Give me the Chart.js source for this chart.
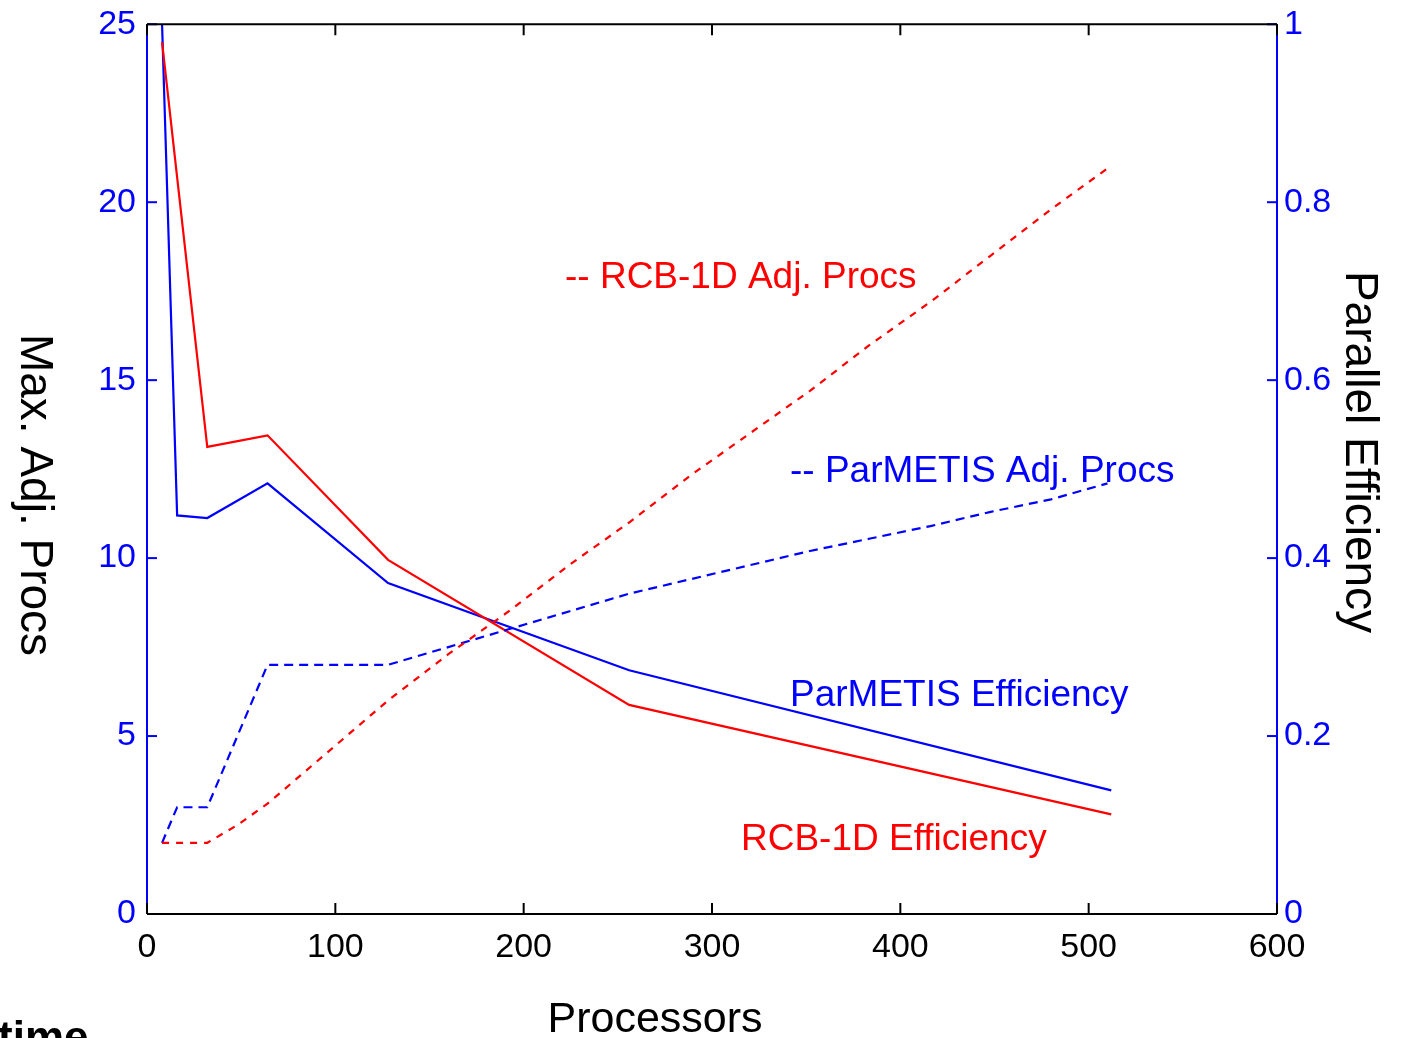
<!DOCTYPE html>
<html>
<head>
<meta charset="utf-8">
<title>Max. Adj. Procs and Parallel Efficiency vs Processors</title>
<script src="https://cdn.jsdelivr.net/npm/chart.js@4.4.1/dist/chart.umd.min.js"></script>
<style>
  html, body { margin: 0; padding: 0; background: #fff; overflow: hidden; }
  canvas { display: block; }
</style>
</head>
<body>
<canvas id="chart" width="1401" height="1038"></canvas>
<script>
// Data
// Efficiency runs (right axis)
const effProcs = [8, 16, 32, 64, 128, 256, 512];
const parmetisEff = [1.0, 0.448, 0.445, 0.484, 0.372, 0.274, 0.139];
const rcbEff = [0.98, 0.828, 0.525, 0.538, 0.398, 0.235, 0.112];

// Max adjacent processors (left axis)
const adjProcs = [8, 16, 32, 48, 64, 96, 128, 160, 192, 224, 256, 288, 320, 352, 384, 416, 448, 480, 510];
const parmetisAdj = [2, 3, 3, 5, 7, 7, 7, 7.5, 8.0, 8.5, 9.0, 9.4, 9.8, 10.2, 10.55, 10.9, 11.3, 11.65, 12.1];
const rcbAdj = [2, 2, 2, 2.5, 3.1, 4.55, 6.0, 7.3, 8.5, 9.8, 11.0, 12.3, 13.5, 14.7, 16.0, 17.2, 18.5, 19.8, 20.95];

// Axis ranges
const xRange = [0, 600, 100];
const leftRange = [0, 25, 5];
const rightRange = [0, 1, 0.2];

const RED = "#ff0000";
const BLUE = "#0000ff";
const SANS = '"Liberation Sans", Arial, sans-serif';

function toPoints(xs, ys) {
  return xs.map((x, i) => ({ x: x, y: ys[i] }));
}

// Frame, inward tick marks
const framePlugin = {
  id: "frame",
  afterDatasetsDraw(chart) {
    const { ctx, chartArea: a, scales } = chart;
    const line = (x1, y1, x2, y2) => {
      ctx.beginPath();
      ctx.moveTo(x1, y1);
      ctx.lineTo(x2, y2);
      ctx.stroke();
    };
    ctx.save();
    ctx.lineWidth = 2;

    // blue y axes
    ctx.strokeStyle = BLUE;
    line(a.left, a.top, a.left, a.bottom);
    line(a.right, a.top, a.right, a.bottom);
    scales.y.ticks.forEach((t) => {
      const py = scales.y.getPixelForValue(t.value);
      line(a.left, py, a.left + 10, py);
    });
    scales.y1.ticks.forEach((t) => {
      const py = scales.y1.getPixelForValue(t.value);
      line(a.right, py, a.right - 10, py);
    });

    // black x axes
    ctx.strokeStyle = "#000";
    line(a.left, a.top, a.right, a.top);
    line(a.left, a.bottom, a.right, a.bottom);
    scales.x.ticks.forEach((t) => {
      const px = scales.x.getPixelForValue(t.value);
      line(px, a.bottom, px, a.bottom - 11);
      line(px, a.top, px, a.top + 11);
    });
    ctx.restore();
  },
};

// Labels on the plot and the axis titles
const textPlugin = {
  id: "labels",
  afterDraw(chart) {
    const ctx = chart.ctx;
    ctx.save();
    ctx.textBaseline = "alphabetic";

    ctx.font = "37px " + SANS;
    ctx.textAlign = "left";
    ctx.fillStyle = RED;
    ctx.fillText("-- RCB-1D Adj. Procs", 565, 288);
    ctx.fillText("RCB-1D Efficiency", 741, 850);
    ctx.fillStyle = BLUE;
    ctx.fillText("-- ParMETIS Adj. Procs", 790, 482);
    ctx.fillText("ParMETIS Efficiency", 790, 706);

    ctx.fillStyle = "#000";
    ctx.font = "43px " + SANS;
    ctx.textAlign = "center";
    ctx.fillText("Processors", 655, 1032);

    ctx.font = "46px " + SANS;
    ctx.save();
    ctx.translate(21, 495);
    ctx.rotate(Math.PI / 2);
    ctx.fillText("Max. Adj. Procs", 0, 0);
    ctx.restore();

    ctx.save();
    ctx.translate(1346, 452);
    ctx.rotate(Math.PI / 2);
    ctx.fillText("Parallel Efficiency", 0, 0);
    ctx.restore();

    ctx.font = "bold 44px " + SANS;
    ctx.textAlign = "left";
    ctx.fillText("time", -2, 1052);
    ctx.restore();
  },
};

const xTickFont = { family: SANS, size: 34 };
// small line height keeps the top label overhang from pushing the plot down
const yTickFont = { family: SANS, size: 34, lineHeight: 0.78 };

new Chart(document.getElementById("chart"), {
  type: "line",
  data: {
    datasets: [
      {
        label: "RCB-1D Adj. Procs",
        data: toPoints(adjProcs, rcbAdj),
        yAxisID: "y",
        borderColor: RED,
        borderWidth: 2.2,
        borderDash: [7, 7],
        pointRadius: 0,
      },
      {
        label: "ParMETIS Adj. Procs",
        data: toPoints(adjProcs, parmetisAdj),
        yAxisID: "y",
        borderColor: BLUE,
        borderWidth: 2.2,
        borderDash: [9, 6],
        pointRadius: 0,
      },
      {
        label: "RCB-1D Efficiency",
        data: toPoints(effProcs, rcbEff),
        yAxisID: "y1",
        borderColor: RED,
        borderWidth: 2.2,
        pointRadius: 0,
      },
      {
        label: "ParMETIS Efficiency",
        data: toPoints(effProcs, parmetisEff),
        yAxisID: "y1",
        borderColor: BLUE,
        borderWidth: 2.2,
        pointRadius: 0,
      },
    ],
  },
  options: {
    responsive: false,
    animation: false,
    devicePixelRatio: 1,
    layout: { padding: { top: 24, left: 0, right: 0, bottom: 0 } },
    plugins: {
      legend: { display: false },
      title: { display: false },
      tooltip: { enabled: false },
    },
    elements: { line: { tension: 0 } },
    scales: {
      x: {
        type: "linear",
        min: xRange[0],
        max: xRange[1],
        grid: { display: false, drawTicks: false },
        border: { display: false },
        ticks: {
          stepSize: xRange[2],
          color: "#000",
          padding: 13,
          maxRotation: 0,
          font: xTickFont,
        },
        afterFit: (scale) => { scale.height = 124; },
      },
      y: {
        position: "left",
        min: leftRange[0],
        max: leftRange[1],
        grid: { display: false, drawTicks: false },
        border: { display: false },
        ticks: {
          stepSize: leftRange[2],
          color: BLUE,
          padding: 11,
          font: yTickFont,
        },
        afterFit: (scale) => { scale.width = 147; },
      },
      y1: {
        position: "right",
        min: rightRange[0],
        max: rightRange[1],
        grid: { display: false, drawTicks: false },
        border: { display: false },
        ticks: {
          stepSize: rightRange[2],
          color: BLUE,
          padding: 7,
          font: yTickFont,
          callback: (v) => String(Number(v.toFixed(1))),
        },
        afterFit: (scale) => { scale.width = 124; },
      },
    },
  },
  plugins: [framePlugin, textPlugin],
});
</script>
</body>
</html>
